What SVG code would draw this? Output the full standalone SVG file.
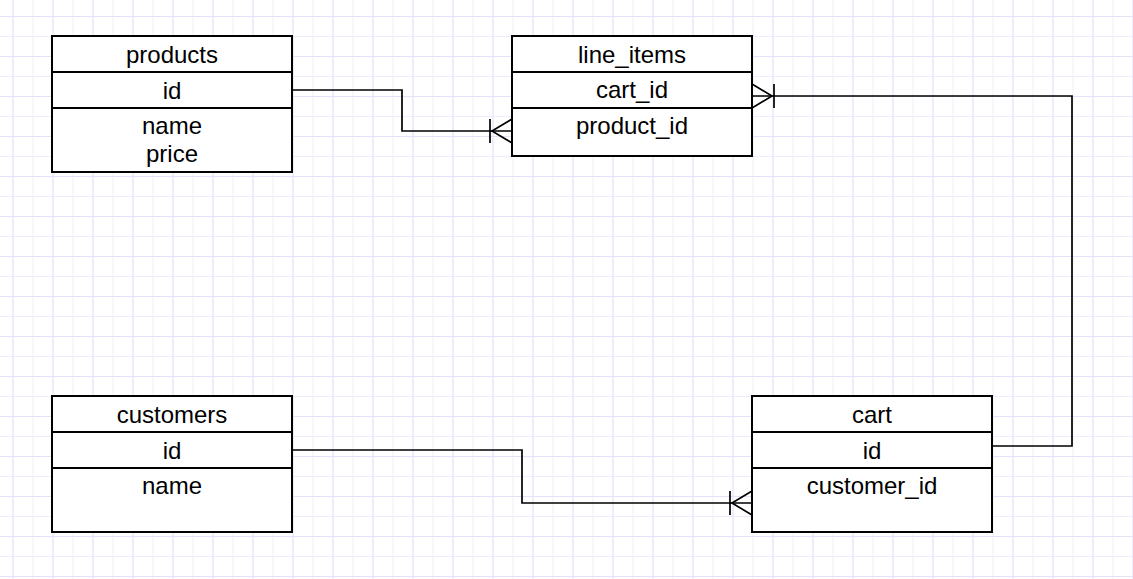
<svg xmlns="http://www.w3.org/2000/svg" width="1133" height="579" viewBox="0 0 1133 579">
<style>
.box{fill:#fff;stroke:#000;stroke-width:2}
.div{stroke:#000;stroke-width:2}
.t{font-family:"Liberation Sans",Arial,sans-serif;font-size:24px;fill:#000;text-anchor:middle}
.c{fill:none;stroke:#000;stroke-width:1.7}
</style>
<defs>
<pattern id="minor" x="12.5" y="16" width="20" height="20" patternUnits="userSpaceOnUse">
<path d="M0.5 0V20M0 0.5H20" stroke="#eeeefb" stroke-width="1" fill="none"/>
</pattern>
<pattern id="major" x="12.5" y="16" width="40" height="40" patternUnits="userSpaceOnUse">
<path d="M0.5 0V40M0 0.5H40" stroke="#e2e2f8" stroke-width="1" fill="none"/>
</pattern>
</defs>
<rect width="1133" height="579" fill="#fff"/>
<rect width="1133" height="579" fill="url(#minor)"/>
<rect width="1133" height="579" fill="url(#major)"/>

<g id="connectors">
<path class="c" d="M292 90H402V131H512"/>
<path class="c" d="M490 119V143M512 119L492 131L512 143"/>
<path class="c" d="M752 96H1072V446H992"/>
<path class="c" d="M774 84V108M752 84L772 96L752 108"/>
<path class="c" d="M292 450H522V503H752"/>
<path class="c" d="M730 491V515M752 491L732 503L752 515"/>
</g>

<g id="products">
<rect class="box" x="52" y="36" width="240" height="136"/>
<path class="div" d="M52 72H292M52 108H292"/>
<text class="t" x="172" y="62.5">products</text>
<text class="t" x="172" y="98.5">id</text>
<text class="t" x="172" y="134">name</text>
<text class="t" x="172" y="162">price</text>
</g>

<g id="line_items">
<rect class="box" x="512" y="36" width="240" height="120"/>
<path class="div" d="M512 72H752M512 108H752"/>
<text class="t" x="632" y="62.5">line_items</text>
<text class="t" x="632" y="98">cart_id</text>
<text class="t" x="632" y="134">product_id</text>
</g>

<g id="customers">
<rect class="box" x="52" y="396" width="240" height="136"/>
<path class="div" d="M52 432H292M52 468H292"/>
<text class="t" x="172" y="422.5">customers</text>
<text class="t" x="172" y="458.5">id</text>
<text class="t" x="172" y="494">name</text>
</g>

<g id="cart">
<rect class="box" x="752" y="396" width="240" height="136"/>
<path class="div" d="M752 432H992M752 468H992"/>
<text class="t" x="872" y="422.5">cart</text>
<text class="t" x="872" y="458.5">id</text>
<text class="t" x="872" y="494">customer_id</text>
</g>
</svg>
